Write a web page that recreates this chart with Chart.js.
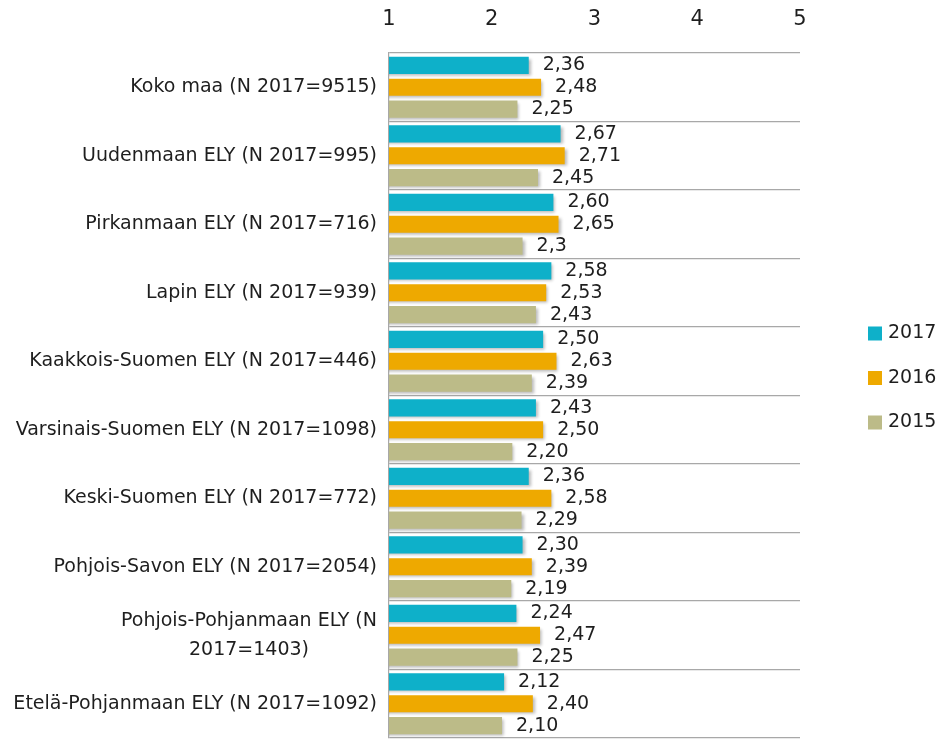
<!DOCTYPE html>
<html>
<head>
<meta charset="utf-8">
<style>
  html, body { margin: 0; padding: 0; background: #fff; }
  #wrap { width: 942px; height: 742px; }
</style>
<script src="https://cdn.jsdelivr.net/npm/chart.js@4/dist/chart.umd.min.js"></script>
</head>
<body>
<div id="wrap"><canvas id="c" width="942" height="742"></canvas></div>
<script>
  /* ── Data ── */
  var categories = [
    ['Koko maa (N 2017=9515)'],
    ['Uudenmaan ELY (N 2017=995)'],
    ['Pirkanmaan ELY (N 2017=716)'],
    ['Lapin ELY (N 2017=939)'],
    ['Kaakkois-Suomen ELY (N 2017=446)'],
    ['Varsinais-Suomen ELY (N 2017=1098)'],
    ['Keski-Suomen ELY (N 2017=772)'],
    ['Pohjois-Savon ELY (N 2017=2054)'],
    ['Pohjois-Pohjanmaan ELY (N', '2017=1403)'],
    ['Etelä-Pohjanmaan ELY (N 2017=1092)']
  ];
  var seriesNames = ['2017', '2016', '2015'];
  var values2017 = [2.36, 2.67, 2.60, 2.58, 2.50, 2.43, 2.36, 2.30, 2.24, 2.12];
  var values2016 = [2.48, 2.71, 2.65, 2.53, 2.63, 2.50, 2.58, 2.39, 2.47, 2.40];
  var values2015 = [2.25, 2.45, 2.3, 2.43, 2.39, 2.20, 2.29, 2.19, 2.25, 2.10];
  // 2015 Pirkanmaan is printed with one decimal in the original
  var oneDecimal2015 = [2];
  var xTicks = [1, 2, 3, 4, 5];

  var FONT = "'DejaVu Sans', sans-serif";
  var TEXT = '#1e1e1e';
  var colors = ['#0eb0c9', '#eea900', '#bcbb88'];

  function fmt(v, decimals) {
    return v.toFixed(decimals).replace('.', ',');
  }

  /* ── Value labels next to bars ── */
  var valueLabels = {
    id: 'valueLabels',
    afterDatasetsDraw: function (chart) {
      var ctx = chart.ctx;
      ctx.save();
      ctx.font = '19px ' + FONT;
      ctx.fillStyle = TEXT;
      ctx.textAlign = 'left';
      ctx.textBaseline = 'middle';
      chart.data.datasets.forEach(function (ds, di) {
        chart.getDatasetMeta(di).data.forEach(function (bar, i) {
          var dec = (ds.label === '2015' && oneDecimal2015.indexOf(i) >= 0) ? 1 : 2;
          ctx.fillText(fmt(ds.data[i], dec), bar.x + 14, bar.y);
        });
      });
      ctx.restore();
    }
  };

  /* ── Category labels (multi-line ones centred) ── */
  var categoryLabels = {
    id: 'categoryLabels',
    afterDraw: function (chart) {
      var ctx = chart.ctx;
      var y = chart.scales.y;
      var right = chart.chartArea.left - 12;
      var lh = 29;
      ctx.save();
      ctx.font = '19px ' + FONT;
      ctx.fillStyle = TEXT;
      ctx.textBaseline = 'middle';
      categories.forEach(function (lines, i) {
        var cy = y.getPixelForTick(i);
        var widest = Math.max.apply(null, lines.map(function (l) { return ctx.measureText(l).width; }));
        var multi = lines.length > 1;
        ctx.textAlign = multi ? 'center' : 'right';
        lines.forEach(function (l, k) {
          var ly = cy + (k - (lines.length - 1) / 2) * lh;
          ctx.fillText(l, multi ? right - widest / 2 : right, ly);
        });
      });
      ctx.restore();
    }
  };

  /* ── Legend on the right ── */
  var sideLegend = {
    id: 'sideLegend',
    afterDraw: function (chart) {
      var ctx = chart.ctx;
      var midY = chart.height / 2 + 7;
      var gap = 44.5;
      ctx.save();
      ctx.font = '19px ' + FONT;
      ctx.textAlign = 'left';
      ctx.textBaseline = 'middle';
      chart.data.datasets.forEach(function (ds, i) {
        var cy = midY + (i - 1) * gap;
        ctx.fillStyle = ds.backgroundColor;
        ctx.fillRect(868, cy - 7, 14, 14);
        ctx.fillStyle = TEXT;
        ctx.fillText(ds.label, 888, cy);
      });
      ctx.restore();
    }
  };

  /* ── Soft shadow under bars ── */
  var barShadow = {
    id: 'barShadow',
    beforeDatasetsDraw: function (chart) {
      var ctx = chart.ctx;
      ctx.save();
      ctx.shadowColor = 'rgba(0,0,0,0.28)';
      ctx.shadowBlur = 3;
      ctx.shadowOffsetX = 2;
      ctx.shadowOffsetY = 2;
    },
    afterDatasetsDraw: function (chart) {
      chart.ctx.restore();
    }
  };

  new Chart(document.getElementById('c'), {
    type: 'bar',
    data: {
      labels: categories.map(function (l) { return l.join(' '); }),
      datasets: [
        { label: seriesNames[0], data: values2017, backgroundColor: colors[0] },
        { label: seriesNames[1], data: values2016, backgroundColor: colors[1] },
        { label: seriesNames[2], data: values2015, backgroundColor: colors[2] }
      ]
    },
    options: {
      indexAxis: 'y',
      responsive: false,
      animation: false,
      layout: { padding: { top: 6, right: 142, bottom: 4, left: 0 } },
      datasets: { bar: { categoryPercentage: 0.96, barPercentage: 0.78 } },
      plugins: {
        legend: { display: false },
        tooltip: { enabled: false }
      },
      scales: {
        x: {
          position: 'top',
          min: 1,
          max: 5,
          afterBuildTicks: function (s) { s.ticks = xTicks.map(function (v) { return { value: v }; }); },
          afterFit: function (s) { s.height = 47; },
          grid: { display: false, drawTicks: false },
          border: { display: false },
          ticks: { font: { size: 21, family: FONT }, color: TEXT, padding: 21 }
        },
        y: {
          grid: { color: '#a8a8a8', drawTicks: false, lineWidth: 1.2 },
          border: { display: true, color: '#a8a8a8', width: 1.2 },
          ticks: { display: false },
          afterFit: function (s) { s.width = 389; }
        }
      }
    },
    plugins: [barShadow, valueLabels, categoryLabels, sideLegend]
  });
</script>
</body>
</html>
